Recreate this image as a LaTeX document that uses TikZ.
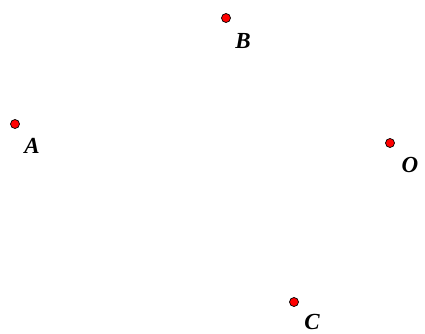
\documentclass[tikz,border=0pt]{standalone}
\usepackage{fontspec}
\setmainfont{Liberation Serif}
\usetikzlibrary{positioning}
\definecolor{dotred}{HTML}{FF0000}
\tikzset{
  x=1pt,y=1pt,
  pt/.style={circle,draw=black,fill=dotred,line width=0.7pt,inner sep=0pt,minimum size=9pt},
  lbl/.style={font=\fontsize{23}{23}\selectfont\bfseries\itshape,inner sep=0pt},
}
\begin{document}
\begin{tikzpicture}
\useasboundingbox (0,0) rectangle (425,333);

% points
\node[pt] (B) at (226,315) {};
\node[pt] (A) at (15,209) {};
\node[pt] (O) at (390,190) {};
\node[pt] (C) at (294,31) {};

% labels
\node[lbl] (lB) at (243,292) {B};
\node[lbl] (lA) at (32,187) {A};
\node[lbl] (lO) at (410,168) {O};
\node[lbl] (lC) at (312,11) {C};

\end{tikzpicture}
\end{document}
